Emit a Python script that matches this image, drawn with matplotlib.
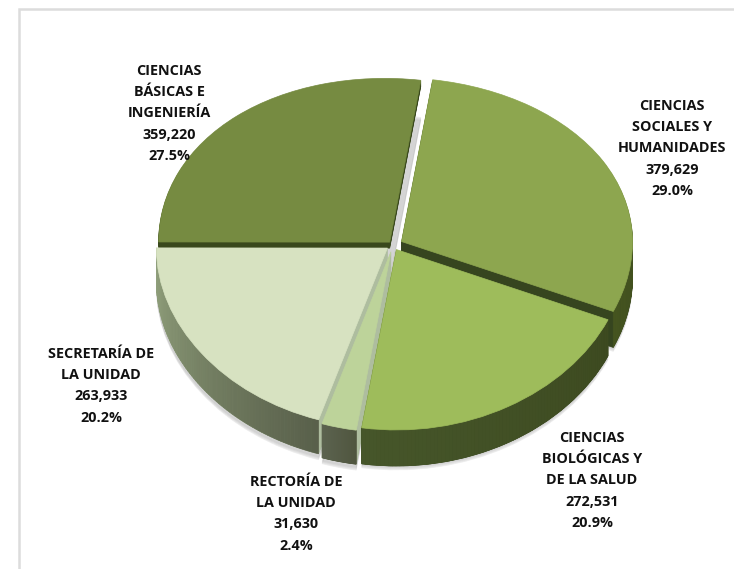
import numpy as np
import matplotlib
matplotlib.use('Agg')
import matplotlib.pyplot as plt
from matplotlib.patches import PathPatch, Polygon, Rectangle
from matplotlib.path import Path
from matplotlib.colors import to_rgb

categories = ['CIENCIAS\nSOCIALES Y\nHUMANIDADES', 'CIENCIAS\nBIOLÓGICAS Y\nDE LA SALUD',
              'RECTORÍA DE\nLA UNIDAD', 'SECRETARÍA DE\nLA UNIDAD',
              'CIENCIAS\nBÁSICAS E\nINGENIERÍA']
values = [379629, 272531, 31630, 263933, 359220]
percents = ['29.0%', '20.9%', '2.4%', '20.2%', '27.5%']
explode = [0.042, 0.03, 0.04, 0.03, 0.022]

top_colors = ['#8da64f', '#9ebc5b', '#bdd39a', '#d7e2c1', '#768b41']
face_colors = ['#36451f', '#36451f', '#aebd9f', '#aebd9f', '#39481c']
side_left = ['#45541f', '#46562a', '#5c6350', '#93a37e', '#39481c']
side_right = ['#36451f', '#3d4a20', '#50563f', '#585f4a', '#39481c']
depths = [36, 36, 34, 34, 6]
label_xy = [(672, 106), (592, 438), (296, 482), (101, 354), (169, 71)]

CX, CY = 393, 245
RX = 231


def project(xy, dy=0):
    # slightly bigger towards the viewer, like the 3D pie it was made from
    x = CX + RX * xy[:, 0] - 5 * np.clip(xy[:, 1], 0, 1) ** 2
    y = CY - 172 * xy[:, 1] + 8 * xy[:, 1] ** 2 + dy
    return np.column_stack([x, y])


fig = plt.figure(figsize=(7.34, 5.69), dpi=100)
ax = fig.add_axes([0, 0, 1, 1])
wedges, _ = ax.pie(values, explode=explode, startangle=81, counterclock=False, radius=1)
paths = [w.get_path() for w in wedges]
info = [(w.theta1, w.theta2, w.center) for w in wedges]
for w in wedges:
    w.remove()
ax.set_aspect('auto')
ax.set_xlim(0, 734)
ax.set_ylim(569, 0)
ax.axis('off')

ax.add_patch(Rectangle((19, 9), 790, 590, fc='white', ec='#dcdcdc', lw=1.8, zorder=0))


def add_path(path, dy, color, **kw):
    ax.add_patch(PathPatch(Path(project(path.vertices, dy), path.codes), fc=color, ec=color,
                           lw=0.5, **kw))


# soft shadow under the whole pie
for i in range(4):
    for p in paths:
        add_path(p, 37 + i, '#999999', alpha=0.12, zorder=1)

order = [4, 0, 3, 2, 1]
for z, i in enumerate(order):
    zo = 2 + z
    for dy in np.arange(depths[i], 0, -1.0):
        add_path(paths[i], dy, face_colors[i], zorder=zo)
    # outer rim, shaded along the arc
    t1, t2, c = info[i]
    th = np.radians(np.linspace(t1, t2, 80))
    c0, c1 = np.array(to_rgb(side_left[i])), np.array(to_rgb(side_right[i]))
    for k in range(len(th) - 1):
        if np.sin(th[k]) > 0.02 or i == 4:
            continue
        a = np.array([[c[0] + np.cos(th[k]), c[1] + np.sin(th[k])],
                      [c[0] + np.cos(th[k + 1]), c[1] + np.sin(th[k + 1])]])
        up, low = project(a), project(a, depths[i])
        col = c0 + (c1 - c0) * k / (len(th) - 1)
        ax.add_patch(Polygon([up[0], up[1], low[1], low[0]], fc=col, ec=col, lw=0.5, zorder=zo))
    add_path(paths[i], 0, top_colors[i], zorder=zo)

for cat, val, pct, (x, y) in zip(categories, values, percents, label_xy):
    lines = cat.split('\n') + [f'{val:,}', pct]
    for n, line in enumerate(lines):
        ax.text(x, y + n * 21.2, line, ha='center', va='center', fontsize=10.4, fontweight='bold',
                family='Open Sans', color='#111111', zorder=20)

fig.savefig('out.png', dpi=100)
